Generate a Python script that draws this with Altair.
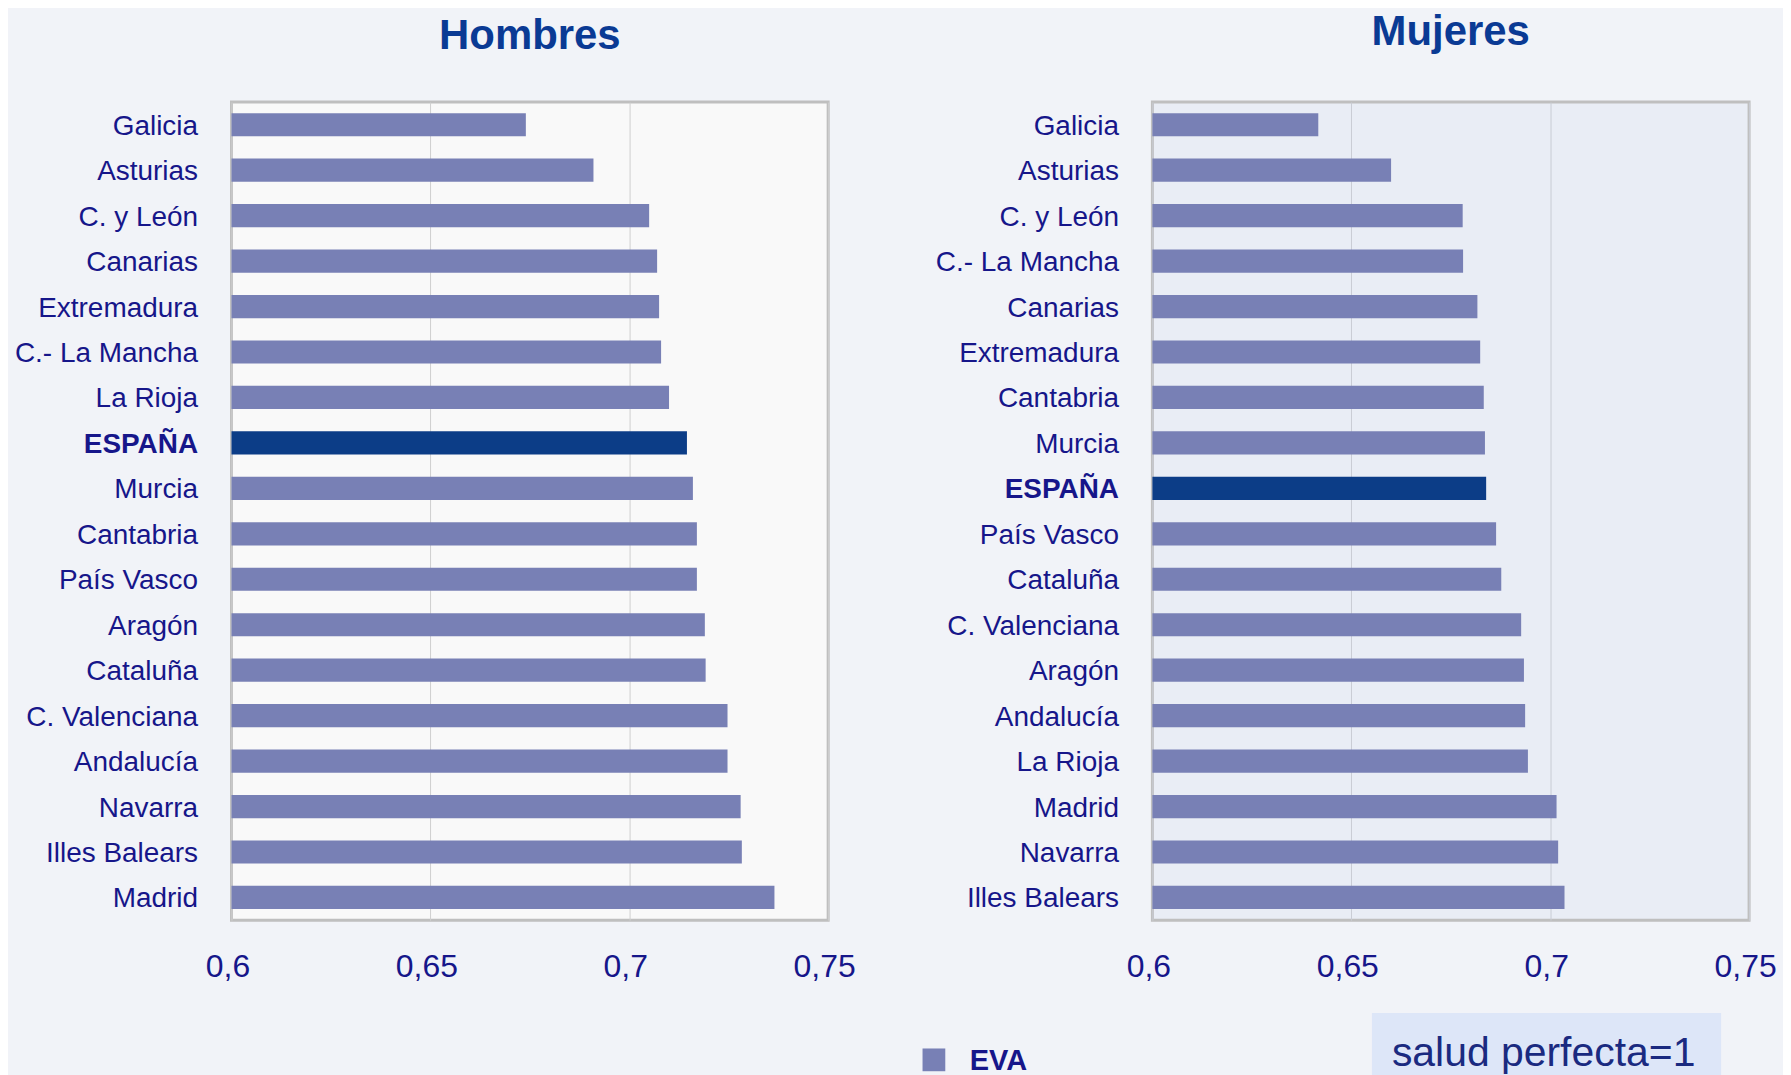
import altair as alt
import pandas as pd

# ---- data ----
h_regions = ["Galicia", "Asturias", "C. y León", "Canarias", "Extremadura", "C.- La Mancha",
             "La Rioja", "ESPAÑA", "Murcia", "Cantabria", "País Vasco", "Aragón", "Cataluña",
             "C. Valenciana", "Andalucía", "Navarra", "Illes Balears", "Madrid"]
h_values = [0.674, 0.691, 0.705, 0.707, 0.7075, 0.708, 0.710, 0.7145, 0.716, 0.717, 0.717,
            0.719, 0.7192, 0.7247, 0.7247, 0.728, 0.7283, 0.7365]

m_regions = ["Galicia", "Asturias", "C. y León", "C.- La Mancha", "Canarias", "Extremadura",
             "Cantabria", "Murcia", "ESPAÑA", "País Vasco", "Cataluña", "C. Valenciana",
             "Aragón", "Andalucía", "La Rioja", "Madrid", "Navarra", "Illes Balears"]
m_values = [0.6417, 0.660, 0.678, 0.6781, 0.6817, 0.6824, 0.6833, 0.6836, 0.6839, 0.6864,
            0.6877, 0.6927, 0.6934, 0.6937, 0.6944, 0.7016, 0.702, 0.7036]

x_ticks = [0.6, 0.65, 0.7, 0.75]
series_name = ["EVA"]
note_text = ["salud perfecta=1"]

BAR = "#7880b5"
DARK = "#0c3d87"
NAVY = "#16168a"
TITLE = "#0a3a94"
FONT = "Liberation Sans"


def panel(regions, values, title, title_offset, fill, grid_color):
    df = pd.DataFrame({"region": regions, "valor": values})
    bars = alt.Chart(df).mark_bar().encode(
        y=alt.Y("region:N", sort=regions, title=None,
                scale=alt.Scale(paddingInner=0.49, paddingOuter=0.245),
                axis=alt.Axis(domain=False, ticks=False, tickSize=0, labelPadding=34,
                              labelFontSize=28, labelColor=NAVY, labelFont=FONT,
                              labelOffset=2,
                              labelLimit=400, minExtent=219, maxExtent=219,
                              labelFontWeight={"condition": {"test": "datum.value === 'ESPAÑA'",
                                                             "value": "bold"},
                                               "value": "normal"})),
        x=alt.X("valor:Q", title=None,
                scale=alt.Scale(domain=[0.6, 0.75], zero=False, nice=False),
                axis=alt.Axis(values=x_ticks, labelExpr="replace(toString(datum.value), '.', ',')",
                              domain=False, ticks=False, tickSize=0, labelPadding=31,
                              labelOffset=-4,
                              labelFontSize=32, labelColor=NAVY, labelFont=FONT,
                              labelFlush=False, labelBound=False,
                              grid=True, gridColor=grid_color, gridWidth=1)),
        x2=alt.datum(0.6),
        color=alt.condition("datum.region === 'ESPAÑA'", alt.value(DARK), alt.value(BAR)),
    )
    ttl = alt.Title(title, fontSize=42, fontWeight="bold", color=TITLE, font=FONT,
                    offset=title_offset, anchor="middle")
    return bars, ttl, alt.ViewBackground(fill=fill, stroke="#bfbfbf", strokeWidth=3)


left_bars, left_title, left_view = panel(h_regions, h_values, "Hombres", 44, "#f9f9f9", "#cfcfcf")
left = left_bars.properties(width=598, height=820, title=left_title, view=left_view)

right_bars, right_title, right_view = panel(m_regions, m_values, "Mujeres", 48, "#e9edf5", "#c9ccd4")

# legend (series key) and note
legend_df = pd.DataFrame({"serie": series_name})
legend_sym = alt.Chart(legend_df).mark_point(shape="square", filled=True, size=520,
                                             opacity=1, color=BAR).encode(
    x=alt.value(-219), y=alt.value(960))
legend_lbl = alt.Chart(legend_df).mark_text(align="left", baseline="alphabetic", fontSize=29,
                                            fontWeight="bold", font=FONT, color=NAVY).encode(
    x=alt.value(-183), y=alt.value(970), text="serie:N")

note_df = pd.DataFrame({"t": note_text})
note_box = alt.Chart(note_df).mark_rect(color="#dde6f8").encode(
    x=alt.value(220), x2=alt.value(570), y=alt.value(913), y2=alt.value(990))
note_txt = alt.Chart(note_df).mark_text(align="left", baseline="alphabetic", fontSize=41,
                                        font=FONT, color="#1a2a80").encode(
    x=alt.value(240), y=alt.value(966), text="t:N")

right = alt.layer(right_bars, note_box, note_txt, legend_sym, legend_lbl).properties(
    width=598, height=820, title=right_title, view=right_view)

chart = alt.hconcat(left, right, spacing=325, bounds="flush").properties(
    padding={"left": 3, "top": 0, "right": 5, "bottom": 5},
    background="#f1f3f8",
)

chart.save("out.html", embed_options={"renderer": "svg", "actions": False})
